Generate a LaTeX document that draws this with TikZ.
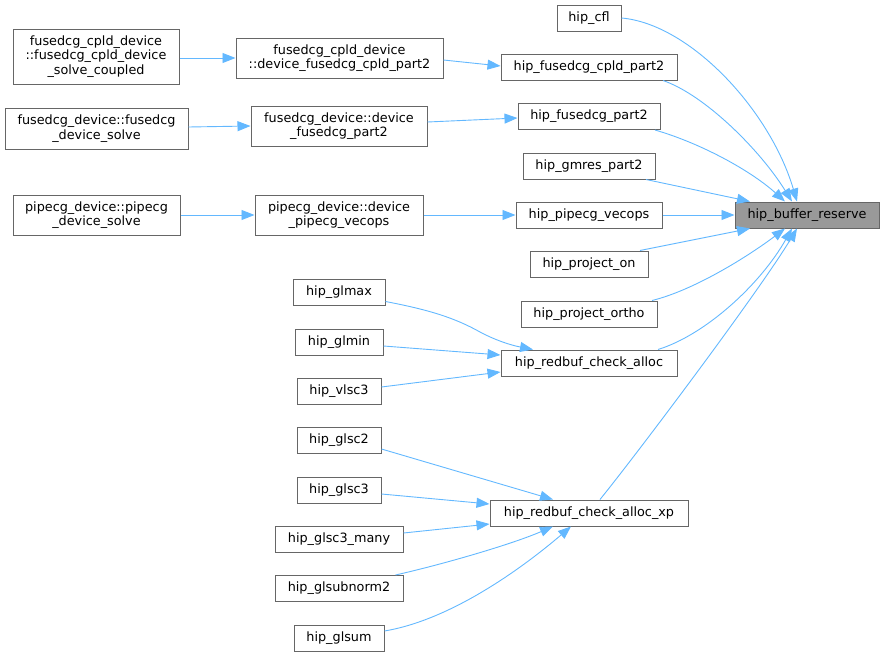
\documentclass[tikz,border=0pt]{standalone}
\usepackage{fontspec}
\setmainfont{DejaVu Sans}
\usetikzlibrary{arrows.meta}
\definecolor{edgeblue}{HTML}{63B8FF}
\definecolor{boxgray}{HTML}{666666}
\definecolor{rootgray}{HTML}{999999}
\begin{document}
\begin{tikzpicture}[x=1pt,y=-1pt,
  box/.style={draw=boxgray, line width=1pt, fill=white, rectangle, inner sep=0pt,
    minimum height=26pt, align=center, font=\fontsize{12.8}{14.5}\selectfont},
  rootbox/.style={box, fill=rootgray},
  edge/.style={draw=edgeblue, line width=0.9pt, -{Triangle[length=13pt,width=10pt]}}]
\useasboundingbox (0,0) rectangle (884,656);
% right-hand column
\node[rootbox, minimum width=144pt] (buf) at (807,215) {hip\_buffer\_reserve};
\node[box, minimum width=64pt]  (cfl)  at (589,18)    {hip\_cfl};
\node[box, minimum width=176pt] (fcp2) at (589,67)    {hip\_fusedcg\_cpld\_part2};
\node[box, minimum width=142pt] (fp2)  at (589,116.5) {hip\_fusedcg\_part2};
\node[box, minimum width=132pt] (gm)   at (589,166)   {hip\_gmres\_part2};
\node[box, minimum width=146pt] (pv)   at (589,215)   {hip\_pipecg\_vecops};
\node[box, minimum width=118pt] (pon)  at (589,264)   {hip\_project\_on};
\node[box, minimum width=136pt] (port) at (589,314)   {hip\_project\_ortho};
\node[box, minimum width=176pt] (rca)  at (589,363)   {hip\_redbuf\_check\_alloc};
\node[box, minimum width=198pt] (rcx)  at (589,513)   {hip\_redbuf\_check\_alloc\_xp};
% middle column
\node[box, minimum width=207pt, minimum height=40pt] (dcp2) at (339.5,58) {fusedcg\_cpld\_device\\::device\_fusedcg\_cpld\_part2};
\node[box, minimum width=176pt, minimum height=40pt] (dfp2) at (339,126) {fusedcg\_device::device\\\_fusedcg\_part2};
\node[box, minimum width=168pt, minimum height=40pt] (dpv)  at (339,215) {pipecg\_device::device\\\_pipecg\_vecops};
\node[box, minimum width=92pt]  (glmax) at (339,292.5) {hip\_glmax};
\node[box, minimum width=88pt]  (glmin) at (339,342)   {hip\_glmin};
\node[box, minimum width=84pt]  (vlsc3) at (339,391)   {hip\_vlsc3};
\node[box, minimum width=84pt]  (glsc2) at (339,440.5) {hip\_glsc2};
\node[box, minimum width=84pt]  (glsc3) at (339,490)   {hip\_glsc3};
\node[box, minimum width=128pt] (glsc3m) at (339,539.5) {hip\_glsc3\_many};
\node[box, minimum width=128pt] (glsub) at (339,588.5) {hip\_glsubnorm2};
\node[box, minimum width=90pt]  (glsum) at (339,638)   {hip\_glsum};
% left column
\node[box, minimum width=166pt, minimum height=55pt] (scp) at (96,56.5) {fusedcg\_cpld\_device\\::fusedcg\_cpld\_device\\\_solve\_coupled};
\node[box, minimum width=183pt, minimum height=41pt] (fs)  at (96.5,128.5) {fusedcg\_device::fusedcg\\\_device\_solve};
\node[box, minimum width=167pt, minimum height=40pt] (ps)  at (96.5,215) {pipecg\_device::pipecg\\\_device\_solve};
% edges to hip_buffer_reserve
\draw[edge] (cfl.east) .. controls (690,24) and (770,110) .. ([xshift=-10pt]buf.north);
\draw[edge] ([xshift=74pt]fcp2.south) .. controls (705,95) and (760,150) .. ([xshift=-15pt]buf.north);
\draw[edge] ([xshift=66pt]fp2.south) .. controls (700,143) and (750,170) .. ([xshift=-22pt]buf.north);
\draw[edge] ([xshift=57pt]gm.south) -- ([xshift=-57pt]buf.north);
\draw[edge] (pv.east) -- (buf.west);
\draw[edge] ([xshift=51pt]pon.north) -- ([xshift=-57pt]buf.south);
\draw[edge] ([xshift=63pt]port.north) .. controls (695,290) and (750,255) .. ([xshift=-22pt]buf.south);
\draw[edge] ([xshift=69pt]rca.north) .. controls (705,335) and (760,285) .. ([xshift=-15pt]buf.south);
\draw[edge] ([xshift=11pt]rcx.north) .. controls (640,450) and (760,290) .. ([xshift=-10pt]buf.south);
% left edges
\draw[edge] (scp.east |- dcp2.west) -- (dcp2.west);
\draw[edge] ([yshift=-2pt]dcp2.east) -- ([yshift=1pt]fcp2.west);
\draw[edge] ([yshift=1.5pt]fs.east) -- (dfp2.west);
\draw[edge] ([yshift=4pt]dfp2.east) -- ([yshift=-1.5pt]fp2.west);
\draw[edge] (ps.east) -- (dpv.west);
\draw[edge] (dpv.east) -- (pv.west);
% to hip_redbuf_check_alloc
\draw[edge] ([yshift=-9pt]glmax.east) .. controls (430,310) and (455,318) .. (480,332) .. controls (495,340) and (510,345) .. ([xshift=-56pt]rca.north);
\draw[edge] ([yshift=-4pt]glmin.east) -- ([yshift=8pt]rca.west);
\draw[edge] ([yshift=4pt]vlsc3.east) -- ([yshift=-9pt]rca.west);
% to hip_redbuf_check_alloc_xp
\draw[edge] ([yshift=-8.5pt]glsc2.east) -- ([xshift=-36pt]rcx.north);
\draw[edge] ([yshift=-4pt]glsc3.east) -- ([yshift=9pt]rcx.west);
\draw[edge] ([yshift=6.5pt]glsc3m.east) -- ([yshift=-11pt]rcx.west);
\draw[edge] ([xshift=-8pt]glsub.north east) .. controls (440,565) and (510,545) .. ([xshift=-36pt]rcx.south);
\draw[edge] ([yshift=7pt]glsum.east) .. controls (450,620) and (520,570) .. ([xshift=-18pt]rcx.south);
\end{tikzpicture}
\end{document}
